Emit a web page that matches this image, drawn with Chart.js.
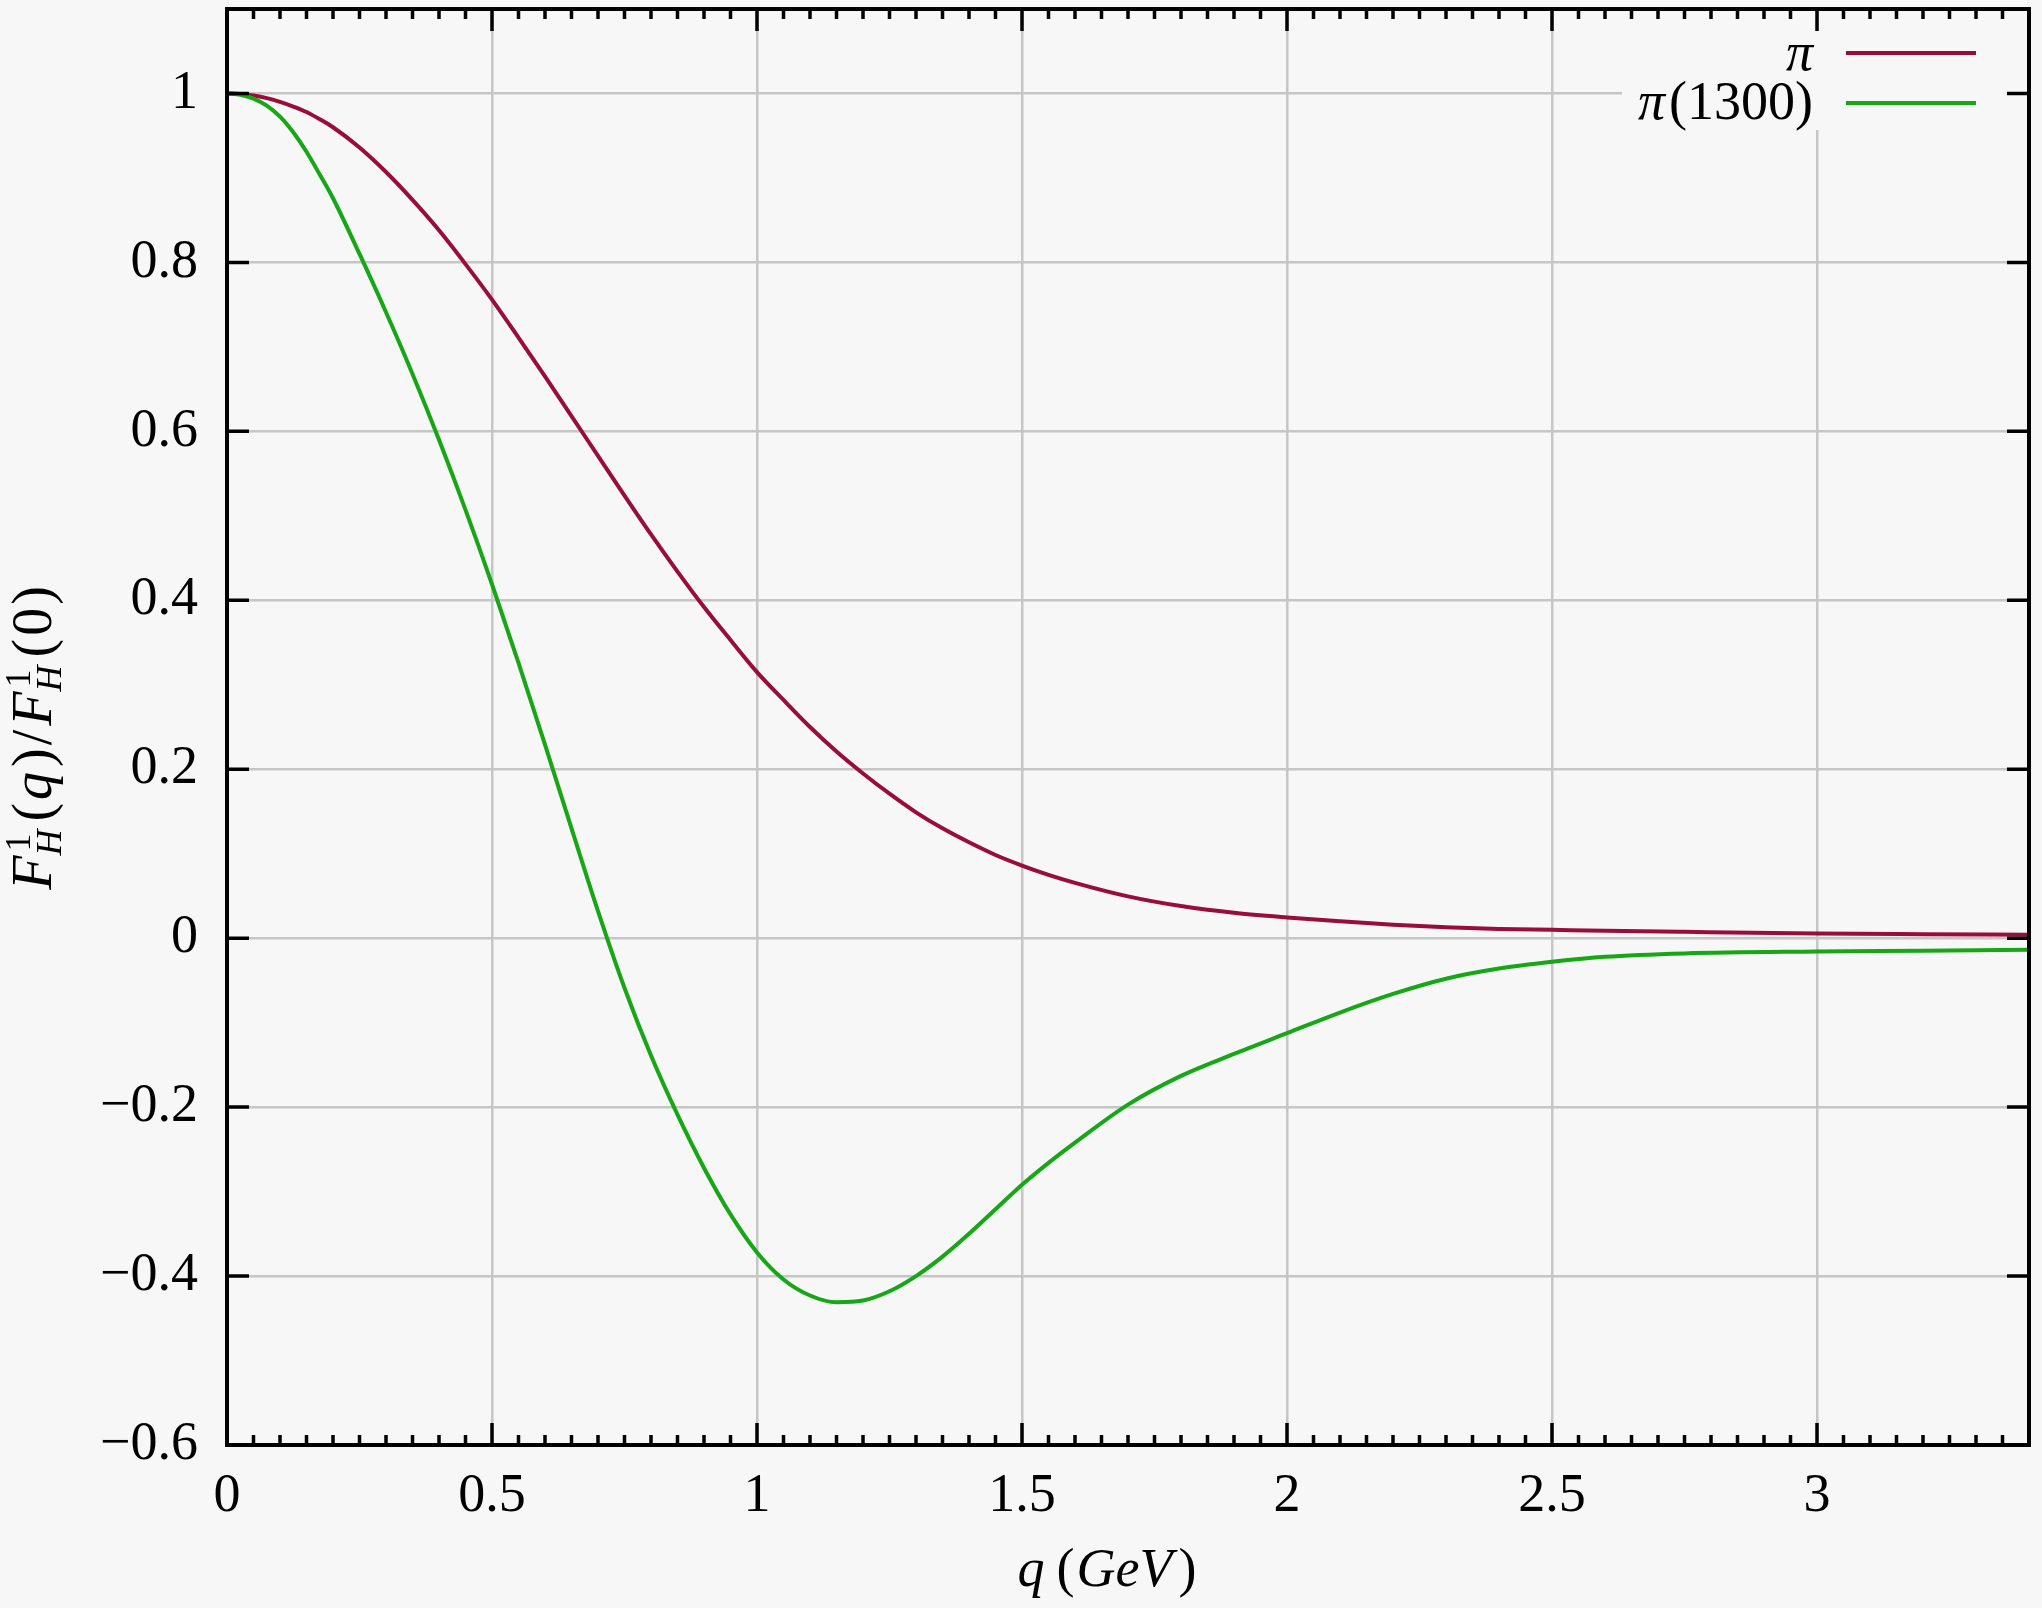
<!doctype html>
<html lang="en">
  <head>
    <meta charset="utf-8">
    <title>F_H^1(q)/F_H^1(0)</title>
    <style>
      * {
        margin: 0;
        padding: 0;
      }
      body {
        background: #f7f7f7;
        width: 2042px;
        height: 1608px;
        overflow: hidden;
      }
      canvas {
        display: block;
      }
    </style>
  </head>
  <body>
    <canvas id="myChart" width="2042" height="1608"></canvas>
    <script src="https://cdn.jsdelivr.net/npm/chart.js/dist/chart.umd.min.js"></script>
    <script>
    // data
    const qValues = [0, 0.025, 0.05, 0.075, 0.1, 0.125, 0.15, 0.175, 0.2, 0.25, 0.3, 0.35, 0.4, 0.45, 0.5, 0.55, 0.6, 0.65, 0.7, 0.75,
      0.8, 0.85, 0.9, 0.95, 1.0, 1.05, 1.1, 1.15, 1.2, 1.25, 1.3, 1.35, 1.4, 1.45, 1.5, 1.55,
      1.6, 1.7, 1.8, 1.9, 2.0, 2.1, 2.2, 2.3, 2.4, 2.5, 2.6, 2.75, 3.0, 3.2, 3.4];
    const piValues = [1.000, 0.9994, 0.9975, 0.9945, 0.990, 0.9845, 0.978, 0.9695, 0.960, 0.936, 0.907, 0.874, 0.838, 0.798, 0.756, 0.711, 0.665, 0.618, 0.571, 0.524,
      0.478, 0.434, 0.392, 0.353, 0.315, 0.282, 0.250, 0.221, 0.195, 0.171, 0.149, 0.130, 0.1135, 0.0985, 0.086, 0.075,
      0.0655, 0.0495, 0.038, 0.030, 0.0245, 0.020, 0.016, 0.013, 0.011, 0.0099, 0.0088, 0.0075, 0.0056, 0.0047, 0.004];
    const pi1300Values = [1.000, 0.9985, 0.994, 0.9855, 0.9725, 0.954, 0.931, 0.904, 0.876, 0.810, 0.741, 0.668, 0.590, 0.507, 0.419, 0.326, 0.229, 0.130, 0.032, -0.059,
      -0.139, -0.209, -0.272, -0.327, -0.372, -0.404, -0.423, -0.431, -0.429, -0.418, -0.400, -0.377, -0.350, -0.321, -0.292, -0.266,
      -0.242, -0.197, -0.163, -0.137, -0.1125, -0.088, -0.066, -0.048, -0.036, -0.028, -0.022, -0.018, -0.0158, -0.0148, -0.0136];
    const seriesLabels = ['\u03c0', '\u03c0(1300)'];
    const xTicks = [0, 0.5, 1, 1.5, 2, 2.5, 3];
    const yTicks = [-0.6, -0.4, -0.2, 0, 0.2, 0.4, 0.6, 0.8, 1];

    const FONT = "'Liberation Serif', 'Times New Roman', serif";
    const BG = '#f7f7f7';
    const colors = ['#980d3b', '#16a616'];

    const fmt = (v) => {
      const s = String(Math.round(Math.abs(v) * 100) / 100);
      return v < 0 ? '\u2212' + s : s;
    };

    const data = {
      datasets: [
        {
          label: seriesLabels[0],
          data: qValues.map((q, i) => ({ x: q, y: piValues[i] })),
          borderColor: colors[0],
          order: 1
        },
        {
          label: seriesLabels[1],
          data: qValues.map((q, i) => ({ x: q, y: pi1300Values[i] })),
          borderColor: colors[1],
          order: 0
        }
      ]
    };

    // text pieces: {t, it} normal, {sup, sub} stacked scripts
    function mathWidth(ctx, parts, size, ssize) {
      let w = 0;
      parts.forEach(p => {
        if (p.t !== undefined) {
          ctx.font = (p.it ? 'italic ' : '') + size + 'px ' + FONT;
          w += ctx.measureText(p.t).width + (p.gap || 0);
        } else {
          ctx.font = ssize + 'px ' + FONT;
          const a = ctx.measureText(p.sup).width;
          ctx.font = 'italic ' + ssize + 'px ' + FONT;
          const b = ctx.measureText(p.sub).width;
          w += Math.max(a, b) + (p.gap || 0);
        }
      });
      return w;
    }
    function drawMath(ctx, parts, cx, baseY, size, ssize) {
      let x = cx - mathWidth(ctx, parts, size, ssize) / 2;
      ctx.textAlign = 'left';
      ctx.textBaseline = 'alphabetic';
      parts.forEach(p => {
        if (p.t !== undefined) {
          ctx.font = (p.it ? 'italic ' : '') + size + 'px ' + FONT;
          ctx.fillText(p.t, x, baseY);
          x += ctx.measureText(p.t).width + (p.gap || 0);
        } else {
          ctx.font = ssize + 'px ' + FONT;
          ctx.fillText(p.sup, x + 2, baseY - 21);
          const a = ctx.measureText(p.sup).width;
          ctx.font = 'italic ' + ssize + 'px ' + FONT;
          ctx.fillText(p.sub, x - 2, baseY + 10);
          const b = ctx.measureText(p.sub).width;
          x += Math.max(a, b) + (p.gap || 0);
        }
      });
    }

    // background of the whole picture
    const background = {
      id: 'background',
      beforeDraw(chart) {
        const { ctx, width, height } = chart;
        ctx.save();
        ctx.fillStyle = BG;
        ctx.fillRect(0, 0, width, height);
        ctx.restore();
      }
    };

    // frame, inward ticks, key and axis titles
    const frame = {
      id: 'frame',
      afterDatasetsDraw(chart) {
        const { ctx, chartArea: { top, bottom, left, right }, scales: { x, y } } = chart;
        ctx.save();

        // key box (opaque, hides the grid)
        ctx.fillStyle = BG;
        ctx.fillRect(1622, 30, right - 1622, 100);
        const keyRows = [{ base: 70, line: 53 }, { base: 119, line: 103 }];
        chart.data.datasets.forEach((ds, i) => {
          ctx.fillStyle = '#000';
          ctx.textAlign = 'right';
          ctx.textBaseline = 'alphabetic';
          const lbl = ds.label;
          const rest = lbl.slice(1);
          ctx.font = '54px ' + FONT;
          const rw = ctx.measureText(rest).width + (rest ? 4 : 0);
          ctx.fillText(rest, 1813, keyRows[i].base);
          ctx.font = 'italic 54px ' + FONT;
          ctx.fillText(lbl[0], 1813 - rw, keyRows[i].base);
          ctx.beginPath();
          ctx.strokeStyle = ds.borderColor;
          ctx.lineWidth = 4;
          ctx.moveTo(1846, keyRows[i].line);
          ctx.lineTo(1976, keyRows[i].line);
          ctx.stroke();
        });

        // ticks, minor every 0.05 on x
        ctx.strokeStyle = '#000';
        ctx.lineWidth = 3.5;
        ctx.beginPath();
        for (let k = 1; k * 0.05 < 3.4 - 1e-9; k++) {
          const px = x.getPixelForValue(k * 0.05);
          const len = (k % 10 === 0) ? 22 : 10;
          ctx.moveTo(px, bottom);
          ctx.lineTo(px, bottom - len);
          ctx.moveTo(px, top);
          ctx.lineTo(px, top + len);
        }
        yTicks.forEach(v => {
          const py = y.getPixelForValue(v);
          ctx.moveTo(left, py);
          ctx.lineTo(left + 22, py);
          ctx.moveTo(right, py);
          ctx.lineTo(right - 22, py);
        });
        ctx.stroke();

        // border
        ctx.lineWidth = 4;
        ctx.strokeRect(left, top, right - left, bottom - top);

        // axis titles
        ctx.fillStyle = '#000';
        drawMath(ctx, [
          { t: 'q', it: true, gap: 12 },
          { t: '(', gap: 2 },
          { t: 'GeV', it: true, gap: 6 },
          { t: ')' }
        ], 1107, 1586, 54, 36);

        ctx.translate(51, 738);
        ctx.rotate(-Math.PI / 2);
        drawMath(ctx, [
          { t: 'F', it: true, gap: 2 },
          { sup: '1', sub: 'H', gap: 6 },
          { t: '(', gap: 3 },
          { t: 'q', it: true, gap: 5 },
          { t: ')', gap: 3 },
          { t: '/', gap: 4 },
          { t: 'F', it: true, gap: 2 },
          { sup: '1', sub: 'H', gap: 6 },
          { t: '(', gap: 3 },
          { t: '0', gap: 3 },
          { t: ')' }
        ], 0, 0, 56, 36);

        ctx.restore();
      }
    };

    const gridStyle = { color: '#c6c6c6', lineWidth: 2.5, drawTicks: false };

    const config = {
      type: 'scatter',
      data,
      options: {
        responsive: false,
        animation: false,
        devicePixelRatio: 1,
        showLine: true,
        elements: {
          point: { radius: 0 },
          line: { borderWidth: 4, cubicInterpolationMode: 'monotone', fill: false }
        },
        layout: {
          padding: { top: 9, right: 13, left: 0, bottom: 0 }
        },
        scales: {
          x: {
            type: 'linear',
            min: 0,
            max: 3.4,
            afterBuildTicks: (axis) => { axis.ticks = xTicks.map(v => ({ value: v })); },
            afterFit: (axis) => {
              axis.height = 163;
              axis.paddingLeft = 0;
              axis.paddingRight = 0;
            },
            grid: gridStyle,
            border: { display: false },
            ticks: {
              font: { family: FONT, size: 54 },
              color: '#000',
              padding: 19,
              maxRotation: 0,
              autoSkip: false,
              callback: (v) => fmt(v)
            }
          },
          y: {
            type: 'linear',
            min: -0.6,
            max: 1.1,
            afterBuildTicks: (axis) => { axis.ticks = yTicks.map(v => ({ value: v })); },
            afterFit: (axis) => {
              axis.width = 227;
              axis.paddingTop = 0;
              axis.paddingBottom = 0;
            },
            grid: gridStyle,
            border: { display: false },
            ticks: {
              font: { family: FONT, size: 54 },
              color: '#000',
              padding: 29,
              autoSkip: false,
              callback: (v) => fmt(v)
            }
          }
        },
        plugins: {
          legend: { display: false },
          tooltip: { enabled: false }
        }
      },
      plugins: [background, frame]
    };

    const myChart = new Chart(document.getElementById('myChart'), config);
    </script>
  </body>
</html>
